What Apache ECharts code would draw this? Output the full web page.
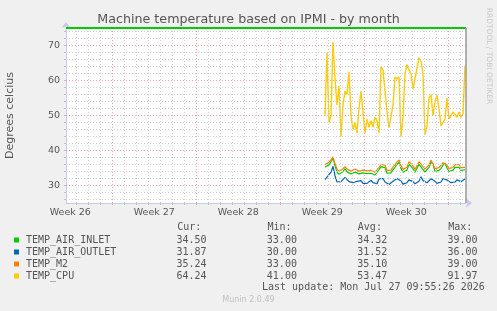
<!DOCTYPE html>
<html><head><meta charset="utf-8">
<script src="https://cdn.jsdelivr.net/npm/echarts@6/dist/echarts.min.js"></script>
<style>html,body{margin:0;padding:0;background:#f0f0f0}#c{width:497px;height:311px}</style>
</head><body><div id="c"></div>
<script>
// ---- data (hours relative to the last update; 4-hour samples) ----
const seriesNames = ['TEMP_AIR_INLET', 'TEMP_AIR_OUTLET', 'TEMP_M2', 'TEMP_CPU'];
const seriesColors = ['#00cc00', '#0066b3', '#ff8000', '#ffcc00'];
const startHour = -282;
const stepHours = 4;

const airInlet = [35.3, 35.8, 35.9, 36.8, 37.9, 35.6, 33.9, 33.2, 33.3, 34.0,
  34.8, 33.9, 33.4, 33.3, 33.3, 33.9, 33.4, 33.3, 33.6, 33.6,
  33.1, 33.4, 33.1, 33.5, 33.9, 33.0, 33.2, 34.5, 35.4, 35.4,
  35.1, 33.5, 33.3, 33.6, 34.5, 35.2, 36.0, 36.7, 34.9, 33.8,
  33.6, 34.4, 36.1, 36.6, 34.8, 33.8, 34.2, 36.1, 36.6, 34.5,
  33.9, 34.3, 35.2, 36.7, 36.1, 34.0, 34.0, 34.3, 34.9, 35.8,
  36.4, 35.0, 34.0, 34.1, 34.4, 35.2, 35.7, 35.2, 34.3, 34.7,
  34.5];
const airOutlet = [31.7, 32.4, 32.0, 33.8, 35.5, 32.8, 31.0, 30.8, 31.1, 31.6,
  32.3, 32.2, 31.1, 30.8, 30.8, 31.0, 31.2, 31.2, 31.4, 30.6,
  30.3, 30.6, 31.0, 31.5, 30.8, 30.5, 30.5, 31.9, 32.2, 32.0,
  31.0, 30.5, 30.3, 30.6, 31.2, 31.7, 32.0, 32.2, 31.3, 30.4,
  30.5, 30.8, 31.6, 32.0, 31.1, 30.5, 30.6, 31.2, 32.5, 31.4,
  30.9, 30.8, 31.3, 31.9, 32.4, 31.2, 30.6, 30.7, 31.0, 32.0,
  32.5, 31.6, 31.1, 30.8, 30.8, 31.0, 31.6, 31.8, 31.1, 30.9,
  31.9];
const m2 = [36.0, 36.5, 36.6, 37.3, 38.2, 36.2, 34.7, 34.1, 34.1, 34.8,
  35.4, 34.7, 34.2, 34.1, 34.1, 34.7, 34.2, 34.1, 34.4, 34.4,
  33.9, 34.2, 33.9, 34.3, 34.6, 33.8, 34.0, 35.2, 36.0, 36.0,
  35.8, 34.3, 34.1, 34.4, 35.3, 35.9, 36.7, 37.3, 35.7, 34.6,
  34.4, 35.2, 36.8, 37.2, 35.6, 34.6, 35.0, 36.8, 37.2, 35.3,
  34.7, 35.1, 35.9, 37.3, 36.8, 34.8, 34.8, 35.1, 35.6, 36.5,
  37.0, 35.8, 34.8, 34.9, 35.2, 35.9, 36.4, 36.0, 35.1, 35.4,
  35.2];
const cpu = [50, 68, 48, 50, 71, 60.5, 53, 58.5, 44, 53,
  57, 56, 62.5, 50, 46, 48, 45, 52, 57, 57.5,
  45, 49, 46.6, 48.5, 46.6, 49.5, 48.5, 45, 64, 63,
  63.5, 51, 46.5, 46, 53, 61, 60.4, 61, 44, 49.5,
  62, 64.5, 63, 62, 57.5, 58, 63.5, 66.5, 65.5, 62,
  44.5, 47, 55, 56, 50, 54, 55.8, 52, 47, 46.5,
  49, 55, 49, 49.5, 51, 51.5, 49.5, 51, 49.5, 50.5,
  64.2];

const curVals = ['34.50', '31.87', '35.24', '64.24'];
const minVals = ['33.00', '30.00', '33.00', '41.00'];
const avgVals = ['34.32', '31.52', '35.10', '53.47'];
const maxVals = ['39.00', '36.00', '39.00', '91.97'];

const weekLabels = ['Week 26', 'Week 27', 'Week 28', 'Week 29', 'Week 30'];
const weekLabelHours = [-791.4, -623.4, -455.4, -287.4, -119.4];
const weekStartHours = [-707.4, -539.4, -371.4, -203.4, -35.4];
const yLabelValues = [30, 40, 50, 60, 70];
const upperLimit = 75;
const nowHour = -1.5;

// ---- derived helpers ----
const dayGridHours = [];
for (let h = -11.4; h > -800; h -= 24) dayGridHours.push(h);
const yMinor = [];
for (let v = 26; v < 75; v += 2) yMinor.push(v);

const series1 = [airInlet, airOutlet, m2, cpu];
const FONT = 'DejaVu Sans';
const MONO = 'DejaVu Sans Mono';
const TXT = '#555';

const chart = echarts.init(document.getElementById('c'), null, {renderer: 'canvas'});

const dataSeries = series1.map((arr, k) => ({
  name: seriesNames[k],
  type: 'line',
  z: 3,
  showSymbol: false,
  symbol: 'none',
  animation: false,
  color: seriesColors[k],
  lineStyle: {width: k === 3 ? 1.4 : 1.2, color: seriesColors[k]},
  data: arr.map((v, i) => [startHour + i * stepHours, v])
}));

const option = {
  backgroundColor: '#f0f0f0',
  animation: false,
  title: {
    text: 'Machine temperature based on IPMI - by month',
    left: 'center', top: 8,
    textStyle: {fontFamily: FONT, fontSize: 12.7, fontWeight: 'normal', color: TXT}
  },
  grid: {left: 66, right: 31, top: 28, bottom: 108, show: true, backgroundColor: '#ffffff', borderWidth: 0, containLabel: false, outerBoundsMode: 'none'},
  xAxis: {
    type: 'value', min: -800, max: 0,
    axisLine: {show: true, onZero: false, lineStyle: {color: '#c8c8f0', width: 1}, symbol: ['none', 'arrow'], symbolSize: [7, 6], symbolOffset: [0, 6]},
    axisTick: {show: true, customValues: dayGridHours, length: 2, inside: false, lineStyle: {color: '#c0c0c0'}},
    axisLabel: {
      customValues: weekLabelHours,
      formatter: v => { const i = weekLabelHours.findIndex(h => Math.abs(h - v) < 0.01); return i >= 0 ? weekLabels[i] : ''; },
      fontFamily: FONT, fontSize: 9.5, color: TXT, margin: 5
    },
    splitLine: {show: false}
  },
  yAxis: {
    type: 'value', min: 25, max: upperLimit,
    name: 'Degrees celcius', nameLocation: 'middle', nameGap: 50,
    nameTextStyle: {fontFamily: FONT, fontSize: 11, color: TXT},
    axisLine: {show: true, onZero: false, lineStyle: {color: '#c8c8f0', width: 1}, symbol: ['none', 'arrow'], symbolSize: [7, 6], symbolOffset: [0, 6]},
    axisTick: {show: true, customValues: yMinor, length: 2, lineStyle: {color: '#c0c0c0'}},
    axisLabel: {customValues: yLabelValues, fontFamily: FONT, fontSize: 9.5, color: TXT, margin: 6},
    splitLine: {show: false}
  },
  legend: {
    orient: 'vertical', left: 14, top: 234, padding: 0,
    itemWidth: 5, itemHeight: 5, itemGap: 0, icon: 'rect',
    selectedMode: false,
    data: seriesNames,
    textStyle: {fontFamily: MONO, fontSize: 10, color: TXT, lineHeight: 12, padding: [0, 0, 0, 2]},
    formatter: name => {
      const i = seriesNames.indexOf(name);
      return name.padEnd(25) + curVals[i].padEnd(15) + minVals[i].padEnd(15) + avgVals[i].padEnd(15) + maxVals[i];
    }
  },
  graphic: [
    {type: 'text', left: 26.7, top: 222, style: {text: ''.padEnd(25) + 'Cur:'.padEnd(15) + 'Min:'.padEnd(15) + 'Avg:'.padEnd(15) + 'Max:', font: '10px "DejaVu Sans Mono"', fill: TXT}},
    {type: 'text', left: 262, top: 282, style: {text: 'Last update: Mon Jul 27 09:55:26 2026', font: '10px "DejaVu Sans Mono"', fill: TXT}},
    {type: 'text', left: 'center', top: 296, style: {text: 'Munin 2.0.49', font: '8px "DejaVu Sans"', fill: '#c0c0c0'}},
    {type: 'text', x: 489, y: 56, rotation: -Math.PI / 2, style: {text: 'RRDTOOL / TOBI OETIKER', font: '7.5px "DejaVu Sans"', fill: '#c8c8c8', align: 'center', verticalAlign: 'middle'}}
  ],
  series: [
    {
      name: 'minorGrid', type: 'line', data: [], z: 1, silent: true,
      markLine: {
        silent: true, symbol: 'none', animation: false, label: {show: false},
        lineStyle: {color: '#d0d0d0', type: [1, 2], width: 1},
        data: dayGridHours.filter(h => !weekStartHours.some(w => Math.abs(w - h) < 0.01)).map(h => ({xAxis: h}))
          .concat(yMinor.filter(v => v % 10 !== 0).map(v => ({yAxis: v})))
      }
    },
    {
      name: 'majorGrid', type: 'line', data: [], z: 2, silent: true,
      markLine: {
        silent: true, symbol: 'none', animation: false, label: {show: false},
        lineStyle: {color: '#f0a0a0', type: [1, 2], width: 1},
        data: weekStartHours.map(h => ({xAxis: h})).concat(yLabelValues.map(v => ({yAxis: v})))
      }
    },
    ...dataSeries,
    {
      name: 'limits', type: 'line', data: [], z: 4, silent: true,
      markLine: {
        silent: true, symbol: 'none', animation: false, label: {show: false},
        data: [
          {yAxis: upperLimit, lineStyle: {color: '#00cc00', width: 2, type: 'solid'}},
          {xAxis: nowHour, lineStyle: {color: '#999999', width: 1.5, type: 'solid'}}
        ]
      }
    }
  ]
};
chart.setOption(option);
</script>
</body></html>
